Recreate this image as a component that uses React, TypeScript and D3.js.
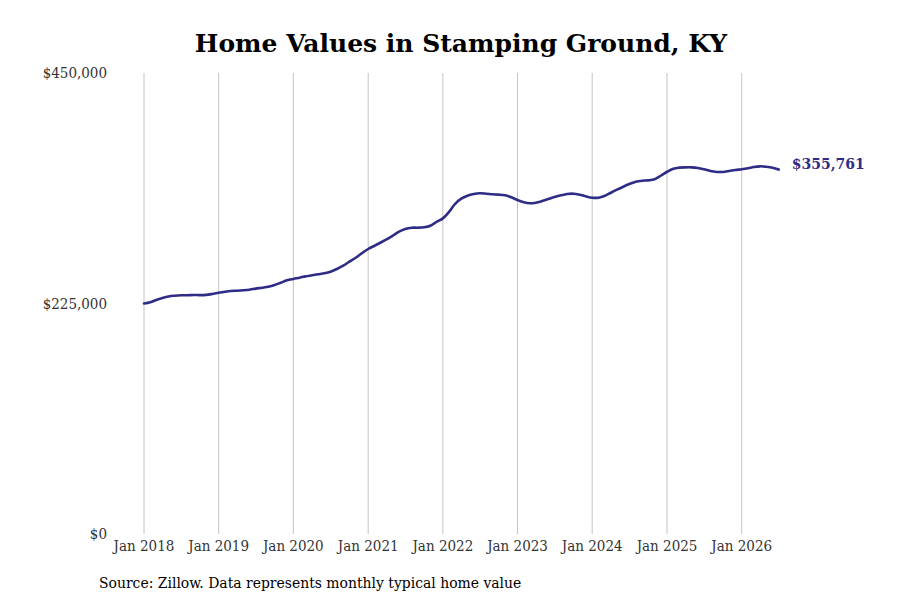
import { useEffect, useRef } from "react";
import * as d3 from "d3";

// Monthly typical home value, Jan 2018 .. Jul 2026
const startYear = 2018;
const values = [
  // 2018
  225000, 226200, 228400, 230400, 231900, 232600, 233000, 233100, 233300, 233200, 233400, 234300,
  // 2019
  235500, 236500, 237200, 237500, 237900, 238500, 239500, 240400, 241400, 243000, 245300, 247600,
  // 2020
  249000, 250200, 251500, 252500, 253500, 254500, 256000, 258700, 261900, 265800, 269700, 274000,
  // 2021
  278200, 281400, 284300, 287600, 291200, 295100, 297700, 299000, 299000, 299400, 300900, 304600,
  // 2022
  308100, 314600, 322100, 327300, 330200, 331900, 332600, 332200, 331600, 331300, 330600, 328700,
  // 2023
  326000, 323800, 322800, 323400, 325000, 327000, 328900, 330600, 331900, 332200, 331200, 329600,
  // 2024
  328300, 328300, 329900, 333100, 336100, 339000, 341600, 343900, 344900, 345200, 346200, 349700,
  // 2025
  353600, 356600, 357600, 357900, 357900, 357300, 356000, 354300, 353400, 353400, 354300, 355300,
  // 2026
  356000, 357000, 358200, 358900, 358500, 357600, 355761,
];
const yTicks = [0, 225000, 450000];
const xTickYears = [2018, 2019, 2020, 2021, 2022, 2023, 2024, 2025, 2026];

const title = "Home Values in Stamping Ground, KY";
const source = "Source: Zillow. Data represents monthly typical home value";
const lineColor = "#2f2c88";

export default function App() {
  const svgRef = useRef<SVGSVGElement>(null);

  useEffect(() => {
    if (!svgRef.current) return;
    const width = 900;
    const height = 600;
    const svg = d3.select(svgRef.current);
    svg.selectAll("*").remove();
    svg.attr("width", width).attr("height", height);

    const data = values.map((v, i) => ({
      date: new Date(startYear, i, 1),
      value: v,
    }));

    const x = d3
      .scaleTime()
      .domain([new Date(2018, 0, 1), new Date(2026, 0, 1)])
      .range([144, 741.7]);
    const y = d3.scaleLinear().domain([0, 450000]).range([534, 73]);

    const font = "'DejaVu Serif', serif";
    const condensed = "'DejaVu Serif Condensed', 'DejaVu Serif', serif";

    // Vertical gridlines
    svg
      .append("g")
      .selectAll("line")
      .data(xTickYears)
      .join("line")
      .attr("x1", (d) => x(new Date(d, 0, 1)))
      .attr("x2", (d) => x(new Date(d, 0, 1)))
      .attr("y1", y(450000))
      .attr("y2", y(0))
      .attr("stroke", "#c4c4c4")
      .attr("stroke-width", 1);

    // X labels
    svg
      .append("g")
      .selectAll("text")
      .data(xTickYears)
      .join("text")
      .attr("x", (d) => x(new Date(d, 0, 1)))
      .attr("y", 551)
      .attr("text-anchor", "middle")
      .style("font-family", condensed)
      .style("font-stretch", "condensed")
      .style("font-size", "15px")
      .attr("fill", "#333")
      .text((d) => `Jan ${d}`);

    // Y labels
    svg
      .append("g")
      .selectAll("text")
      .data(yTicks)
      .join("text")
      .attr("x", 107)
      .attr("y", (d) => y(d))
      .attr("dy", "0.35em")
      .attr("text-anchor", "end")
      .style("font-family", condensed)
      .style("font-stretch", "condensed")
      .style("font-size", "15px")
      .attr("fill", "#333")
      .text((d) => d3.format("$,")(d));

    const line = d3
      .line<{ date: Date; value: number }>()
      .x((d) => x(d.date))
      .y((d) => y(d.value))
      .curve(d3.curveCatmullRom.alpha(0.5));

    svg
      .append("path")
      .datum(data)
      .attr("d", line)
      .attr("fill", "none")
      .attr("stroke", lineColor)
      .attr("stroke-width", 2.6)
      .attr("stroke-linecap", "round");

    const last = data[data.length - 1];
    svg
      .append("text")
      .attr("x", x(last.date) + 13)
      .attr("y", y(last.value) - 5)
      .attr("dy", "0.35em")
      .style("font-family", font)
      .style("font-size", "14px")
      .style("font-weight", "bold")
      .attr("fill", lineColor)
      .text(d3.format("$,")(last.value));

    // Title
    svg
      .append("text")
      .attr("x", 461)
      .attr("y", 52)
      .attr("text-anchor", "middle")
      .style("font-family", font)
      .style("font-size", "25px")
      .style("font-weight", "bold")
      .attr("fill", "#000")
      .text(title);

    // Source
    svg
      .append("text")
      .attr("x", 99)
      .attr("y", 588)
      .style("font-family", condensed)
      .style("font-stretch", "condensed")
      .style("font-size", "15.5px")
      .attr("fill", "#000")
      .text(source);
  }, []);

  return (
    <svg
      ref={svgRef}
      style={{ position: "absolute", left: 0, top: 0, background: "#fff" }}
    />
  );
}
